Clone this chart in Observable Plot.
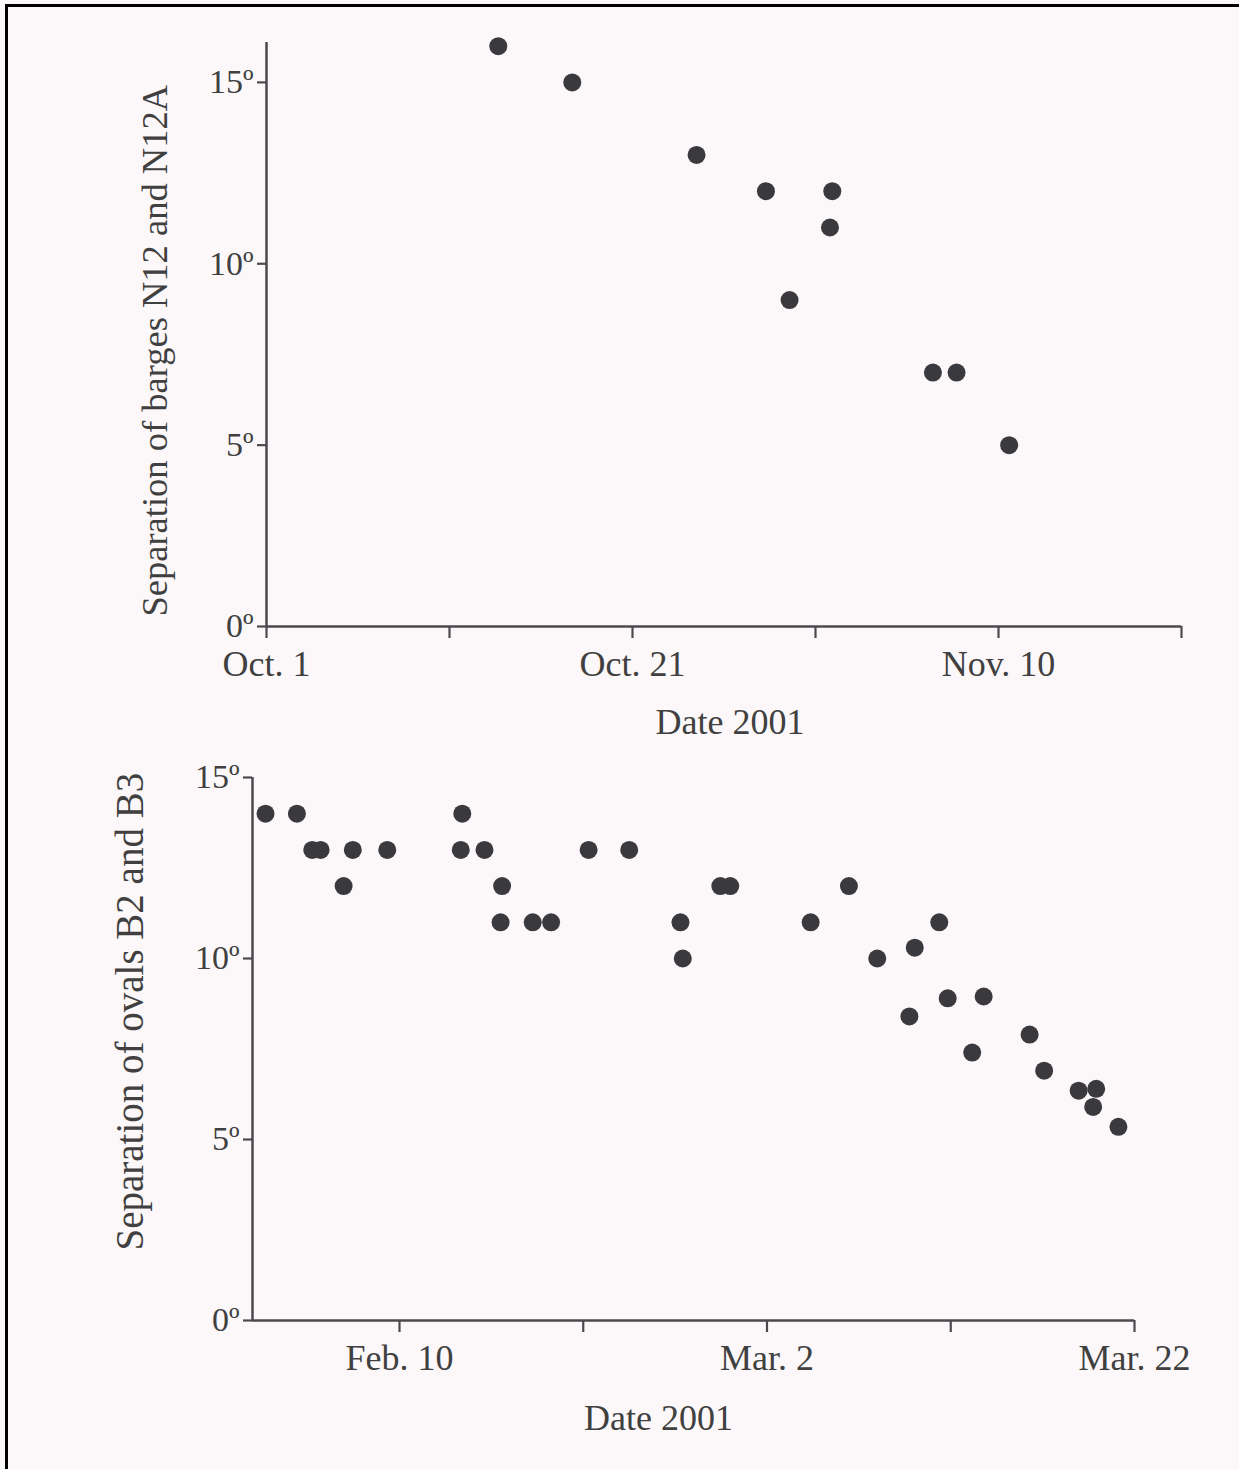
<!DOCTYPE html>
<html>
<head>
<meta charset="utf-8">
<script src="https://cdn.jsdelivr.net/npm/d3@7"></script>
<script src="https://cdn.jsdelivr.net/npm/@observablehq/plot@0.6"></script>
<style>
  html, body { margin: 0; padding: 0; background: #fcf8fa; }
  #page { position: relative; width: 1239px; height: 1469px; overflow: hidden; background: #fcf8fa;
          border-left: 3px solid #000; border-top: 3px solid #000; box-sizing: border-box; margin-left: 5px; margin-top: 4px; }
  #top, #bottom { position: absolute; left: -8px; }
  #top { top: -7px; }
  #bottom { top: 736px; }
</style>
</head>
<body>
<div id="page"><div id="top"></div><div id="bottom"></div></div>
<script>
// ---- Top panel: barges N12 and N12A (Oct–Nov 2001)
const topDates = [
  "2001-10-13T16:00Z", "2001-10-17T17:00Z", "2001-10-24T12:00Z", "2001-10-28T07:00Z",
  "2001-10-29T14:00Z", "2001-10-31T22:00Z", "2001-10-31T19:00Z", "2001-11-06T10:00Z",
  "2001-11-07T17:00Z", "2001-11-10T14:00Z"
];
const topSeparation = [16, 15, 13, 12, 9, 12, 11, 7, 7, 5];
const topTickDates = ["2001-10-01", "2001-10-11", "2001-10-21", "2001-10-31", "2001-11-10", "2001-11-20"];
const topTickLabels = ["Oct. 1", "", "Oct. 21", "", "Nov. 10", ""];
const topYTicks = [0, 5, 10, 15];
const topYLabel = "Separation of barges N12 and N12A";

// ---- Bottom panel: ovals B2 and B3 (Feb–Mar 2001)
const bottomDates = [
  "2001-02-02T17:00Z", "2001-02-04T10:00Z", "2001-02-05T06:00Z", "2001-02-05T17:00Z",
  "2001-02-06T23:00Z", "2001-02-07T11:00Z", "2001-02-09T08:00Z", "2001-02-13T10:00Z",
  "2001-02-13T08:00Z", "2001-02-14T15:00Z", "2001-02-15T14:00Z", "2001-02-15T12:00Z",
  "2001-02-17T06:00Z", "2001-02-18T06:00Z", "2001-02-20T07:00Z", "2001-02-22T12:00Z",
  "2001-02-25T07:00Z", "2001-02-25T10:00Z", "2001-02-27T11:00Z", "2001-02-28T00:00Z",
  "2001-03-04T09:00Z", "2001-03-06T11:00Z", "2001-03-08T00:00Z", "2001-03-09T18:00Z",
  "2001-03-10T01:00Z", "2001-03-11T09:00Z", "2001-03-11T20:00Z", "2001-03-13T04:00Z",
  "2001-03-13T19:00Z", "2001-03-16T07:00Z", "2001-03-17T02:00Z", "2001-03-18T23:00Z",
  "2001-03-19T22:00Z", "2001-03-19T18:00Z", "2001-03-21T03:00Z"
];
const bottomSeparation = [
  14, 14, 13, 13, 12, 13, 13, 14, 13, 13, 12, 11, 11, 11, 13, 13, 11, 10, 12, 12,
  11, 12, 10, 8.4, 10.3, 11, 8.9, 7.4, 8.95, 7.9, 6.9, 6.35, 6.4, 5.9, 5.35
];
const bottomTickDates = ["2001-02-10", "2001-02-20", "2001-03-02", "2001-03-12", "2001-03-22"];
const bottomTickLabels = ["Feb. 10", "", "Mar. 2", "", "Mar. 22"];
const bottomYTicks = [0, 5, 10, 15];
const bottomYLabel = "Separation of ovals B2 and B3";
const xLabel = "Date 2001";

const INK = "#3a3a3e";
const TEXT = "#404040";
const FONT = "Liberation Serif, Times New Roman, serif";

function panel({dates, values, tickDates, tickLabels, yTicks, yLabel, xDomain, yDomain,
                height, marginTop, marginBottom, marginLeft, marginRight,
                yTitleDx, yTitleDy, yTitleSize, xTitleDx, xTitleDy}) {
  const data = dates.map((d, i) => ({date: new Date(d), value: values[i]}));
  const ticks = tickDates.map(d => new Date(d + "T00:00Z"));
  const lab = new Map(ticks.map((d, i) => [+d, tickLabels[i]]));
  return Plot.plot({
    width: 1239,
    height,
    marginTop, marginBottom, marginLeft, marginRight,
    style: {background: "transparent", fontFamily: FONT, color: TEXT, overflow: "visible"},
    x: {type: "utc", domain: xDomain.map(d => new Date(d)), axis: null},
    y: {domain: yDomain, axis: null},
    marks: [
      Plot.ruleY([0], {stroke: "#4a4a4e", strokeWidth: 2.5}),
      Plot.ruleX([new Date(xDomain[0])], {stroke: "#4a4a4e", strokeWidth: 2.5}),
      Plot.axisX({ticks, tickFormat: d => lab.get(+d) ?? "", tickSize: 12, tickPadding: 12,
                  fontSize: 36, stroke: "#4a4a4e", strokeWidth: 2.2, label: null}),
      Plot.axisY({ticks: yTicks, tickFormat: d => d + "\u00ba", tickSize: 9, tickPadding: 4,
                  fontSize: 34, stroke: "#4a4a4e", strokeWidth: 2.2, label: null}),
      Plot.dot(data, {x: "date", y: "value", r: 9, fill: INK, stroke: "none"}),
      Plot.text([yLabel], {text: d => d, frameAnchor: "bottom-left", rotate: -90, textAnchor: "start",
                  lineAnchor: "middle", dx: yTitleDx, dy: yTitleDy, fontSize: yTitleSize, fill: TEXT}),
      Plot.text([xLabel], {text: d => d, frameAnchor: "bottom", lineAnchor: "middle",
                  dx: xTitleDx, dy: xTitleDy, fontSize: 36, fill: TEXT})
    ]
  });
}

document.getElementById("top").appendChild(panel({
  dates: topDates, values: topSeparation, tickDates: topTickDates, tickLabels: topTickLabels,
  yTicks: topYTicks, yLabel: topYLabel,
  xDomain: ["2001-10-01T00:00Z", "2001-11-20T00:00Z"], yDomain: [0, 16.1],
  height: 750, marginTop: 42, marginBottom: 124, marginLeft: 266, marginRight: 58,
  yTitleDx: -111, yTitleDy: -10, yTitleSize: 36.5, xTitleDx: 6, xTitleDy: 96
}));

document.getElementById("bottom").appendChild(panel({
  dates: bottomDates, values: bottomSeparation, tickDates: bottomTickDates, tickLabels: bottomTickLabels,
  yTicks: bottomYTicks, yLabel: bottomYLabel,
  xDomain: ["2001-02-02T00:00Z", "2001-03-22T00:00Z"], yDomain: [0, 15],
  height: 726, marginTop: 34, marginBottom: 149, marginLeft: 252, marginRight: 105,
  yTitleDx: -122, yTitleDy: -70, yTitleSize: 39, xTitleDx: -35, xTitleDy: 98
}));
</script>
</body>
</html>
